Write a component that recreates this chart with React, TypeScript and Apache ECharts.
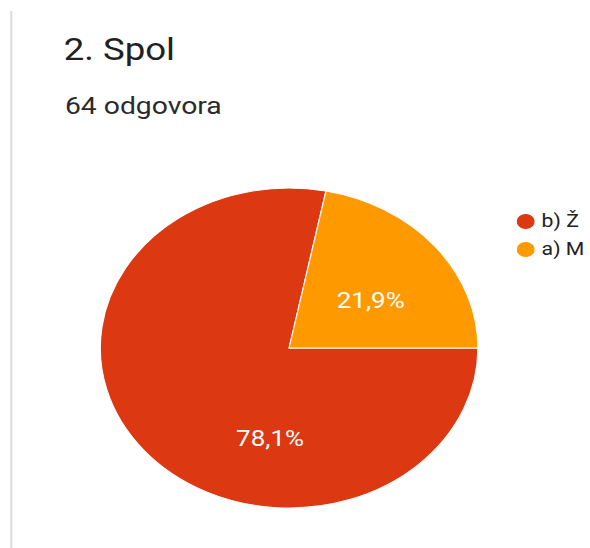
import React, { useEffect, useRef } from "react";
import * as echarts from "echarts";

const titleText = "2. Spol";
const subtitleText = "64 odgovora";
const categories = ["b) Ž", "a) M"];
const counts = [50, 14];
const percentLabels = ["78,1%", "21,9%"];
const colors = ["#dc3912", "#ff9900"];

const STRETCH = 1.18;
const W = 590 / STRETCH;
const H = 548;

export default function App() {
  const ref = useRef<HTMLDivElement>(null);
  useEffect(() => {
    if (!ref.current) return;
    const chart = echarts.init(ref.current, null, { renderer: "svg" });
    const font = "Roboto, 'Noto Sans', Arial, sans-serif";
    chart.setOption({
      animation: false,
      backgroundColor: "#ffffff",
      color: colors,
      title: [
        {
          text: titleText,
          left: 54,
          top: 34,
          padding: 0,
          textStyle: { fontFamily: font, fontSize: 31, fontWeight: "normal", color: "#202124", lineHeight: 31 },
        },
        {
          text: subtitleText,
          left: 55,
          top: 94,
          padding: 0,
          textStyle: { fontFamily: font, fontSize: 24, fontWeight: "normal", color: "#2b2b2b", lineHeight: 24 },
        },
      ],
      legend: {
        orient: "vertical",
        left: 436,
        top: 212,
        padding: 0,
        icon: "circle",
        itemWidth: 17,
        itemHeight: 17,
        itemGap: 9,
        data: categories,
        textStyle: { fontFamily: font, fontSize: 18, lineHeight: 18, color: "#222222", padding: [0, 0, 0, 0] },
        selectedMode: false,
      },
      graphic: [
        {
          type: "rect",
          shape: { x: 8.7, y: 11, width: 1.7, height: H - 11 },
          style: { fill: "#dadce0" },
          silent: true,
        },
      ],
      series: [
        {
          type: "pie",
          center: [245, 348],
          radius: [0, 160],
          startAngle: 0,
          clockwise: true,
          silent: true,
          itemStyle: { borderColor: "#ffffff", borderWidth: 1 },
          label: {
            show: true,
            position: "inside",
            formatter: (p: any) => percentLabels[p.dataIndex],
            color: "#ffffff",
            fontFamily: font,
            fontSize: 22,
          },
          labelLayout: (p: any) => {
            const shifts = [
              [48, 38],
              [5, 5],
            ];
            return { dx: shifts[p.dataIndex][0], dy: shifts[p.dataIndex][1] };
          },
          labelLine: { show: false },
          data: categories.map((c, i) => ({ name: c, value: counts[i] })),
        },
      ],
    });
    return () => chart.dispose();
  }, []);
  return (
    <div
      ref={ref}
      style={{
        position: "fixed",
        left: 0,
        top: 0,
        width: W,
        height: H,
        transform: `scaleX(${STRETCH})`,
        transformOrigin: "0 0",
      }}
    />
  );
}
